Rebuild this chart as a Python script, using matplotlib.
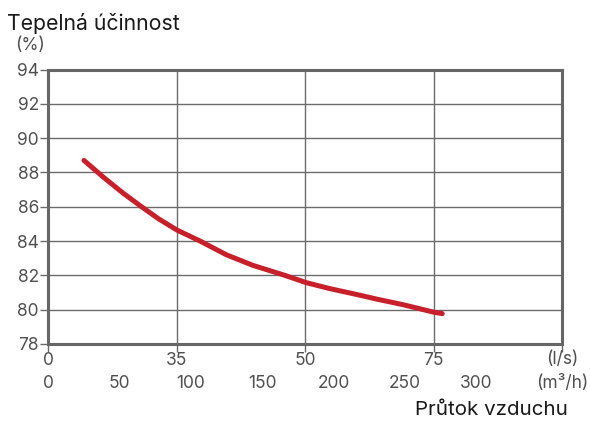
import matplotlib
matplotlib.use("Agg")
import matplotlib.pyplot as plt
import matplotlib.transforms as mtransforms

plt.rcParams['font.family'] = ['Inter', 'DejaVu Sans']

# data (x in l/s, y in %)
flow_ls = [7.0, 10.75, 14.5, 18.2, 21.5, 25.1, 29.6, 34.7, 39.9, 46.1, 50.2, 54.8, 59.4, 64.2, 69.1, 75.1, 76.7]
efficiency = [88.7, 87.73, 86.82, 86.0, 85.3, 84.64, 84.0, 83.2, 82.58, 82.0, 81.58, 81.23, 80.93, 80.6, 80.29, 79.85, 79.77]

ls_ticks = [0, 25, 50, 75, 100]
ls_labels = ['0', '35', '50', '75', '']
m3h_ticks = [0, 50, 100, 150, 200, 250, 300]
y_ticks = [78, 80, 82, 84, 86, 88, 90, 92, 94]

grey = '#6b6b6b'
txt = '#505050'

fig = plt.figure(figsize=(5.9, 4.21), dpi=100)
ax = fig.add_axes([48/590, 1-344/421, (562-48)/590, (344-69.5)/421])

ax.plot(flow_ls, efficiency, color='#c8202a', lw=3.6, solid_capstyle='round',
        solid_joinstyle='round', zorder=3)

ax.set_xlim(0, 100)
ax.set_ylim(78, 94)
ax.set_xticks(ls_ticks)
ax.set_xticklabels(ls_labels)
ax.set_yticks(y_ticks)
ax.grid(True, color=grey, lw=1.0)
ax.tick_params(axis='both', colors=grey, labelcolor=txt, labelsize=12.5, length=6, width=1)
ax.tick_params(axis='x', pad=0)
ax.tick_params(axis='y', pad=0.5)
for s in ax.spines.values():
    s.set_color('#666666')
    s.set_linewidth(2.2)

# second row: m3/h
trans = mtransforms.blended_transform_factory(ax.transData, ax.transAxes)
for v in m3h_ticks:
    ax.text(v/3.6, -(383-344)/274.5, str(v), transform=trans, ha='center', va='center',
            fontsize=12.5, color=txt)

fig.text(578/590, 1-359/421, '(l/s)', ha='right', va='center', fontsize=12.5, color=txt)
fig.text(588/590, 1-383/421, '(m³/h)', ha='right', va='center', fontsize=12.5, color=txt)
fig.text(568/590, 1-410/421, 'Průtok vzduchu', ha='right', va='center', fontsize=14.8, color='#1a1a1a')
fig.text(7/590, 1-23/421, 'Tepelná účinnost', ha='left', va='center', fontsize=15.3, color='#1a1a1a')
fig.text(15/590, 1-45/421, '(%)', ha='left', va='center', fontsize=12.5, color=txt)

fig.savefig('out.png', dpi=100)
